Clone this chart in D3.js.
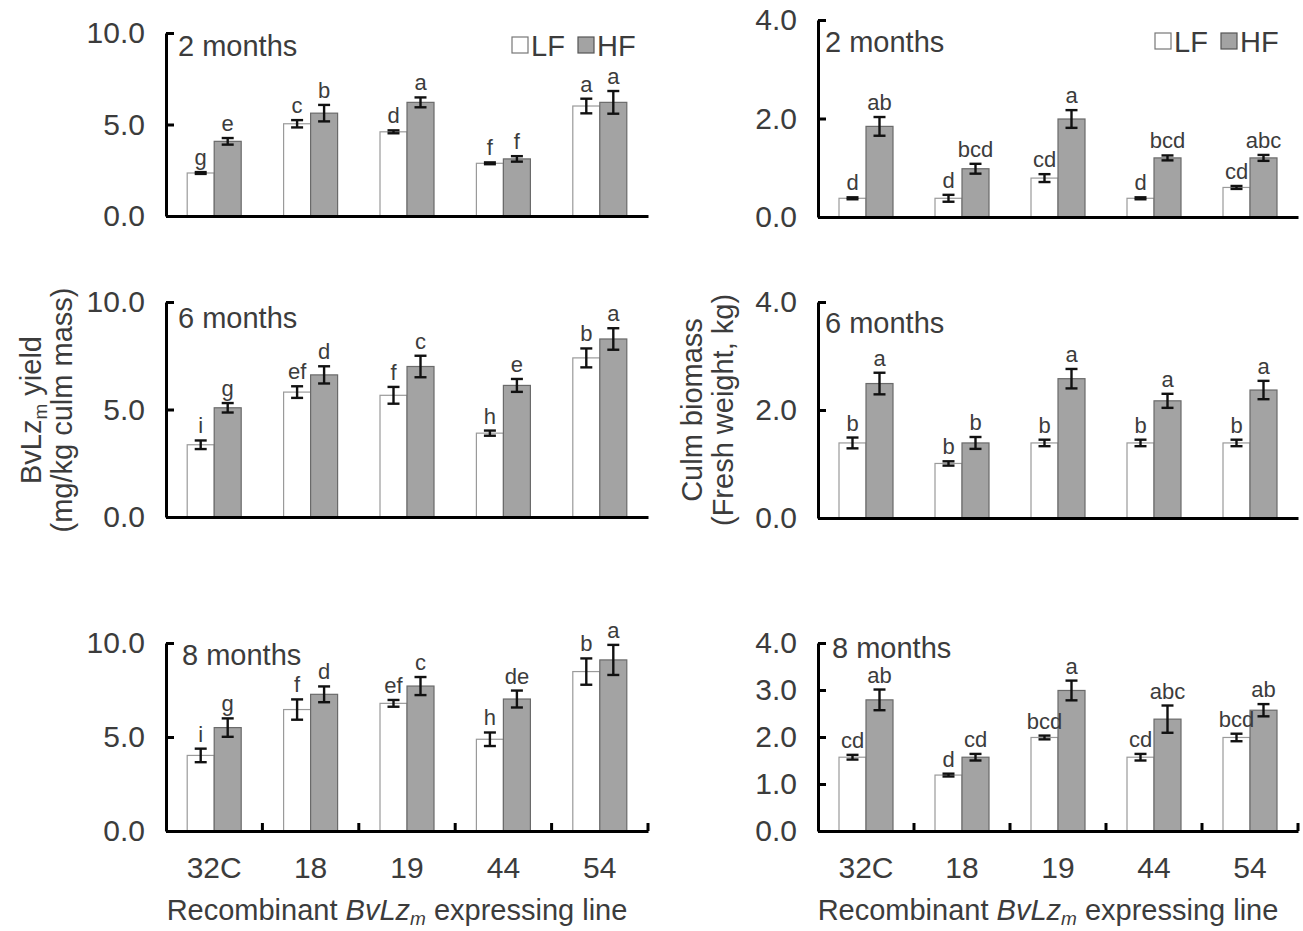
<!DOCTYPE html>
<html>
<head>
<meta charset="utf-8">
<script src="https://cdn.jsdelivr.net/npm/d3@7"></script>
<style>
  body { margin: 0; background: #fff; }
  text { font-family: "Liberation Sans", Arial, sans-serif; fill: #3c3c3c; }
</style>
</head>
<body>
<svg id="chart" width="1303" height="931"></svg>
<script>
const lines = ["32C", "18", "19", "44", "54"]
const series = ["LF", "HF"]

// BvLzm yield (mg/kg culm mass)
const yield2LF = [2.35, 5.04, 4.6, 2.88, 6.01]
const yield2LFErr = [0.05, 0.2, 0.08, 0.05, 0.4]
const yield2HF = [4.08, 5.62, 6.21, 3.12, 6.21]
const yield2HFErr = [0.18, 0.45, 0.27, 0.15, 0.62]
const yield2Letters = [["g", "e"], ["c", "b"], ["d", "a"], ["f", "f"], ["a", "a"]]

const yield6LF = [3.36, 5.81, 5.66, 3.9, 7.4]
const yield6LFErr = [0.2, 0.27, 0.39, 0.12, 0.44]
const yield6HF = [5.08, 6.61, 7.0, 6.12, 8.28]
const yield6HFErr = [0.22, 0.4, 0.5, 0.3, 0.5]
const yield6Letters = [["i", "g"], ["ef", "d"], ["f", "c"], ["h", "e"], ["b", "a"]]

const yield8LF = [4.02, 6.46, 6.79, 4.88, 8.48]
const yield8LFErr = [0.36, 0.54, 0.18, 0.36, 0.7]
const yield8HF = [5.5, 7.27, 7.71, 7.02, 9.1]
const yield8HFErr = [0.49, 0.42, 0.48, 0.45, 0.8]
const yield8Letters = [["i", "g"], ["f", "d"], ["ef", "c"], ["h", "de"], ["b", "a"]]

// culm biomass (fresh weight, kg)
const mass2LF = [0.38, 0.38, 0.79, 0.38, 0.6]
const mass2LFErr = [0.02, 0.07, 0.08, 0.02, 0.03]
const mass2HF = [1.84, 0.98, 1.99, 1.2, 1.2]
const mass2HFErr = [0.19, 0.1, 0.18, 0.05, 0.06]
const mass2Letters = [["d", "ab"], ["d", "bcd"], ["cd", "a"], ["d", "bcd"], ["cd", "abc"]]

const mass6LF = [1.39, 1.01, 1.39, 1.39, 1.39]
const mass6LFErr = [0.1, 0.04, 0.06, 0.06, 0.06]
const mass6HF = [2.49, 1.39, 2.58, 2.17, 2.37]
const mass6HFErr = [0.2, 0.11, 0.18, 0.13, 0.17]
const mass6Letters = [["b", "a"], ["b", "b"], ["b", "a"], ["b", "a"], ["b", "a"]]

const mass8LF = [1.57, 1.19, 1.99, 1.57, 1.99]
const mass8LFErr = [0.05, 0.03, 0.04, 0.07, 0.08]
const mass8HF = [2.79, 1.57, 2.99, 2.38, 2.57]
const mass8HFErr = [0.22, 0.07, 0.21, 0.29, 0.13]
const mass8Letters = [["cd", "ab"], ["d", "cd"], ["bcd", "a"], ["cd", "abc"], ["bcd", "ab"]]

const yieldTicks = [0, 5, 10]
const massTicks = [0, 2, 4]
const massTicks8 = [0, 1, 2, 3, 4]

const COLS = [{ x0: 166, x1: 648 }, { x0: 818, x1: 1298 }]
const BAR_W = 27
const FS = 29

const panels = [
	{ col: 0, top: 33, bottom: 216, max: 10, ticks: yieldTicks, title: "2 months", tx: 178, ty: 56,
	  lf: yield2LF, lfErr: yield2LFErr, hf: yield2HF, hfErr: yield2HFErr, letters: yield2Letters, legend: 512 },
	{ col: 1, top: 20, bottom: 217, max: 4, ticks: massTicks, title: "2 months", tx: 825, ty: 52,
	  lf: mass2LF, lfErr: mass2LFErr, hf: mass2HF, hfErr: mass2HFErr, letters: mass2Letters, legend: 1155 },
	{ col: 0, top: 302, bottom: 517, max: 10, ticks: yieldTicks, title: "6 months", tx: 178, ty: 328,
	  lf: yield6LF, lfErr: yield6LFErr, hf: yield6HF, hfErr: yield6HFErr, letters: yield6Letters },
	{ col: 1, top: 302, bottom: 518, max: 4, ticks: massTicks, title: "6 months", tx: 825, ty: 333,
	  lf: mass6LF, lfErr: mass6LFErr, hf: mass6HF, hfErr: mass6HFErr, letters: mass6Letters },
	{ col: 0, top: 643, bottom: 831, max: 10, ticks: yieldTicks, title: "8 months", tx: 182, ty: 665,
	  lf: yield8LF, lfErr: yield8LFErr, hf: yield8HF, hfErr: yield8HFErr, letters: yield8Letters, xLabels: true },
	{ col: 1, top: 643, bottom: 831, max: 4, ticks: massTicks8, title: "8 months", tx: 832, ty: 658,
	  lf: mass8LF, lfErr: mass8LFErr, hf: mass8HF, hfErr: mass8HFErr, letters: mass8Letters, xLabels: true }
]

const svg = d3.select("#chart")
const fmt = d3.format(".1f")

panels.forEach(p => {
	const col = COLS[p.col]
	const x = d3.scaleBand().domain(lines).range([col.x0, col.x1])
	const xs = d3.scaleBand().domain(series).range([-BAR_W, BAR_W])
	const y = d3.scaleLinear().domain([0, p.max]).range([p.bottom, p.top])

	const g = svg.append("g")

	const rows = lines.map((c, i) => series.map(s => ({
		cat: c, s: s,
		v: s === "LF" ? p.lf[i] : p.hf[i],
		e: s === "LF" ? p.lfErr[i] : p.hfErr[i],
		lab: p.letters[i][s === "LF" ? 0 : 1]
	}))).flat()

	const cx = d => x(d.cat) + x.bandwidth() / 2 + xs(d.s)
	const mid = d => cx(d) + xs.bandwidth() / 2

	// bars
	g.selectAll("rect.bar").data(rows).enter().append("rect")
		.attr("x", cx)
		.attr("y", d => y(d.v))
		.attr("width", xs.bandwidth())
		.attr("height", d => y(0) - y(d.v))
		.attr("fill", d => d.s === "LF" ? "#fff" : "#a3a3a3")
		.attr("stroke", d => d.s === "LF" ? "#9a9a9a" : "#6a6a6a")
		.attr("stroke-width", 1.2)

	// error bars
	const eb = g.selectAll("g.err").data(rows).enter().append("g")
		.attr("stroke", "#111").attr("stroke-width", 2.4)
	eb.append("line")
		.attr("x1", mid).attr("x2", mid)
		.attr("y1", d => y(d.v - d.e)).attr("y2", d => y(d.v + d.e))
	eb.append("line")
		.attr("x1", d => mid(d) - 6).attr("x2", d => mid(d) + 6)
		.attr("y1", d => y(d.v + d.e)).attr("y2", d => y(d.v + d.e))
	eb.append("line")
		.attr("x1", d => mid(d) - 6).attr("x2", d => mid(d) + 6)
		.attr("y1", d => y(d.v - d.e)).attr("y2", d => y(d.v - d.e))

	// significance letters
	g.selectAll("text.lab").data(rows).enter().append("text")
		.attr("x", mid)
		.attr("y", d => y(d.v + d.e) - 7)
		.attr("text-anchor", "middle")
		.attr("font-size", 22)
		.text(d => d.lab)

	// y axis, ticks pointing inward
	const ya = g.append("g")
		.attr("transform", `translate(${col.x0},0)`)
		.call(d3.axisLeft(y).tickValues(p.ticks).tickFormat(fmt).tickSize(-8).tickSizeOuter(0).tickPadding(21))
	ya.select(".domain").attr("stroke", "#000").attr("stroke-width", 3)
	ya.selectAll(".tick line").attr("stroke", "#000").attr("stroke-width", 3)
	ya.selectAll(".tick text").attr("font-size", 30).attr("font-family", "Liberation Sans, Arial, sans-serif").attr("fill", "#3c3c3c")

	// x axis
	const xa = g.append("g")
		.attr("transform", `translate(0,${p.bottom})`)
		.call(d3.axisBottom(x).tickSize(0).tickPadding(26))
	xa.select(".domain").attr("stroke", "#000").attr("stroke-width", 3)
	if (p.xLabels) {
		xa.selectAll(".tick text").attr("font-size", 30).attr("font-family", "Liberation Sans, Arial, sans-serif").attr("fill", "#3c3c3c")
		g.selectAll("line.sep").data(lines).enter().append("line")
			.attr("x1", c => x(c) + x.bandwidth()).attr("x2", c => x(c) + x.bandwidth())
			.attr("y1", p.bottom).attr("y2", p.bottom - 8)
			.attr("stroke", "#000").attr("stroke-width", 3)
	} else {
		xa.selectAll(".tick text").remove()
	}

	g.append("text")
		.attr("x", p.tx).attr("y", p.ty)
		.attr("font-size", FS)
		.text(p.title)

	if (p.legend) {
		const lg = g.append("g").attr("transform", `translate(${p.legend},0)`)
		const ly = p.ty
		series.forEach((s, i) => {
			lg.append("rect")
				.attr("x", i * 66).attr("y", ly - 19)
				.attr("width", 16).attr("height", 16)
				.attr("fill", s === "LF" ? "#fff" : "#a3a3a3")
				.attr("stroke", s === "LF" ? "#777" : "#555")
				.attr("stroke-width", 1.2)
			lg.append("text")
				.attr("x", i * 66 + 19).attr("y", ly)
				.attr("font-size", FS)
				.text(s)
		})
	}
})

// axis titles
function yTitle(xPos, line1, line2) {
	const t1 = svg.append("text")
		.attr("transform", `translate(${xPos[0]},410) rotate(-90)`)
		.attr("text-anchor", "middle").attr("font-size", FS)
	line1(t1)
	svg.append("text")
		.attr("transform", `translate(${xPos[1]},410) rotate(-90)`)
		.attr("text-anchor", "middle").attr("font-size", FS)
		.text(line2)
}

yTitle([41, 72], t => {
	t.append("tspan").text("BvLz")
	t.append("tspan").attr("font-size", 19).attr("dy", 6).text("m")
	t.append("tspan").attr("dy", -6).text(" yield")
}, "(mg/kg culm mass)")

yTitle([702, 733], t => t.text("Culm biomass"), "(Fresh weight, kg)")

function xTitle(cx) {
	const t = svg.append("text")
		.attr("x", cx).attr("y", 920)
		.attr("text-anchor", "middle").attr("font-size", FS)
	t.append("tspan").text("Recombinant ")
	t.append("tspan").attr("font-style", "italic").text("BvLz")
	t.append("tspan").attr("font-style", "italic").attr("font-size", 19).attr("dy", 5).text("m")
	t.append("tspan").attr("dy", -5).text(" expressing line")
}
xTitle(397)
xTitle(1048)
</script>
</body>
</html>
